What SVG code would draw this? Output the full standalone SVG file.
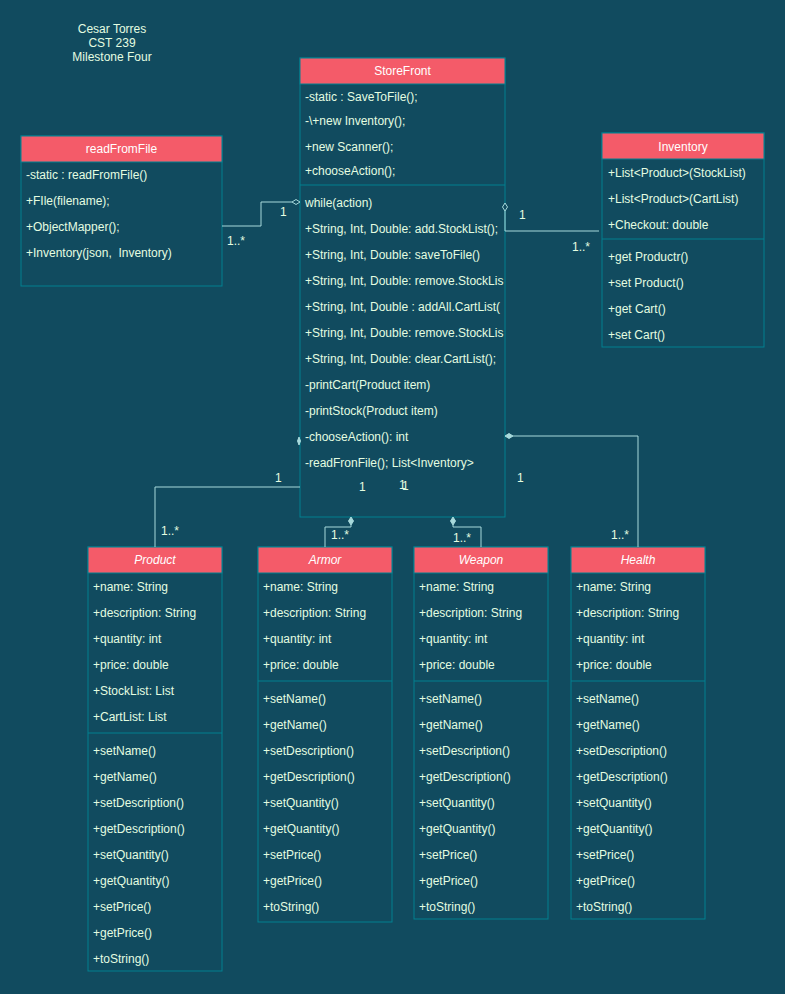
<svg xmlns="http://www.w3.org/2000/svg" width="785" height="994" viewBox="0 0 785 994">
<style>
text{font-family:"Liberation Sans",Arial,Helvetica,sans-serif;font-size:12px;fill:#E4FDE1}
.t{text-anchor:middle}
.h{text-anchor:middle;fill:#FFFFFF}
.i{font-style:italic}
.box{fill:#114B5F;stroke:#028090;stroke-width:1}
.hd{fill:#F45B69;stroke:#028090;stroke-width:1}
.dv{stroke:#028090;stroke-width:1}
.ln{fill:none;stroke:#A8DADC;stroke-width:1}
.dh{fill:#114B5F;stroke:#A8DADC;stroke-width:1}
.df{fill:#A8DADC;stroke:#A8DADC;stroke-width:1}
</style>
<defs>
<clipPath id="sfclip"><rect x="300" y="58" width="205" height="459"/></clipPath>
</defs>
<rect x="0" y="0" width="785" height="994" fill="#114B5F"/>

<g id="title">
<text class="t" x="112" y="33">Cesar Torres</text>
<text class="t" x="112" y="47">CST 239</text>
<text class="t" x="112" y="61">Milestone Four</text>
</g>

<g id="readFromFile">
<rect class="box" x="21" y="136" width="201" height="150"/>
<rect class="hd" x="21" y="136" width="201" height="26"/>
<text class="h" x="121.5" y="153">readFromFile</text>
<text x="26" y="179">-static : readFromFile()</text>
<text x="26" y="205">+FIle(filename);</text>
<text x="26" y="231">+ObjectMapper();</text>
<text x="26" y="257">+Inventory(json,&#160; Inventory)</text>
</g>

<g id="StoreFront">
<rect class="box" x="300" y="58" width="205" height="459"/>
<rect class="hd" x="300" y="58" width="205" height="26"/>
<text class="h" x="402.5" y="75">StoreFront</text>
<line class="dv" x1="300" y1="185" x2="505" y2="185"/>
<g clip-path="url(#sfclip)">
<text x="305" y="101">-static : SaveToFile();</text>
<text x="305" y="125">-\+new Inventory();</text>
<text x="305" y="151">+new Scanner();</text>
<text x="305" y="175">+chooseAction();</text>
<text x="305" y="207">while(action)</text>
<text x="305" y="233">+String, Int, Double: add.StockList();</text>
<text x="305" y="259">+String, Int, Double: saveToFile()</text>
<text x="305" y="285">+String, Int, Double: remove.StockLis</text>
<text x="305" y="311">+String, Int, Double : addAll.CartList(</text>
<text x="305" y="337">+String, Int, Double: remove.StockLis</text>
<text x="305" y="363">+String, Int, Double: clear.CartList();</text>
<text x="305" y="389">-printCart(Product item)</text>
<text x="305" y="415">-printStock(Product item)</text>
<text x="305" y="441">-chooseAction(): int</text>
<text x="305" y="467">-readFronFile(); List&lt;Inventory&gt;</text>
</g>
</g>

<g id="Inventory">
<rect class="box" x="602" y="133" width="162" height="214"/>
<rect class="hd" x="602" y="133" width="162" height="26"/>
<text class="h" x="683" y="151">Inventory</text>
<text x="608" y="177">+List&lt;Product&gt;(StockList)</text>
<text x="608" y="203">+List&lt;Product&gt;(CartList)</text>
<text x="608" y="229">+Checkout: double</text>
<line class="dv" x1="602" y1="239" x2="764" y2="239"/>
<text x="608" y="261">+get Productr()</text>
<text x="608" y="287">+set Product()</text>
<text x="608" y="313">+get Cart()</text>
<text x="608" y="339">+set Cart()</text>
</g>

<g id="Product">
<rect class="box" x="88" y="547" width="134" height="424"/>
<rect class="hd" x="88" y="547" width="134" height="26"/>
<text class="h i" x="155" y="564">Product</text>
<text x="93" y="591">+name: String</text>
<text x="93" y="617">+description: String</text>
<text x="93" y="643">+quantity: int</text>
<text x="93" y="669">+price: double</text>
<text x="93" y="695">+StockList: List</text>
<text x="93" y="721">+CartList: List</text>
<line class="dv" x1="88" y1="733" x2="222" y2="733"/>
<text x="93" y="755">+setName()</text>
<text x="93" y="781">+getName()</text>
<text x="93" y="807">+setDescription()</text>
<text x="93" y="833">+getDescription()</text>
<text x="93" y="859">+setQuantity()</text>
<text x="93" y="885">+getQuantity()</text>
<text x="93" y="911">+setPrice()</text>
<text x="93" y="937">+getPrice()</text>
<text x="93" y="963">+toString()</text>
</g>

<g id="Armor">
<rect class="box" x="258" y="547" width="134" height="375"/>
<rect class="hd" x="258" y="547" width="134" height="26"/>
<text class="h i" x="325" y="564">Armor</text>
<text x="263" y="591">+name: String</text>
<text x="263" y="617">+description: String</text>
<text x="263" y="643">+quantity: int</text>
<text x="263" y="669">+price: double</text>
<line class="dv" x1="258" y1="681" x2="392" y2="681"/>
<text x="263" y="703">+setName()</text>
<text x="263" y="729">+getName()</text>
<text x="263" y="755">+setDescription()</text>
<text x="263" y="781">+getDescription()</text>
<text x="263" y="807">+setQuantity()</text>
<text x="263" y="833">+getQuantity()</text>
<text x="263" y="859">+setPrice()</text>
<text x="263" y="885">+getPrice()</text>
<text x="263" y="911">+toString()</text>
</g>

<g id="Weapon">
<rect class="box" x="414" y="547" width="134" height="372"/>
<rect class="hd" x="414" y="547" width="134" height="26"/>
<text class="h i" x="481" y="564">Weapon</text>
<text x="419" y="591">+name: String</text>
<text x="419" y="617">+description: String</text>
<text x="419" y="643">+quantity: int</text>
<text x="419" y="669">+price: double</text>
<line class="dv" x1="414" y1="681" x2="548" y2="681"/>
<text x="419" y="703">+setName()</text>
<text x="419" y="729">+getName()</text>
<text x="419" y="755">+setDescription()</text>
<text x="419" y="781">+getDescription()</text>
<text x="419" y="807">+setQuantity()</text>
<text x="419" y="833">+getQuantity()</text>
<text x="419" y="859">+setPrice()</text>
<text x="419" y="885">+getPrice()</text>
<text x="419" y="911">+toString()</text>
</g>

<g id="Health">
<rect class="box" x="571" y="547" width="134" height="372"/>
<rect class="hd" x="571" y="547" width="134" height="26"/>
<text class="h i" x="638" y="564">Health</text>
<text x="576" y="591">+name: String</text>
<text x="576" y="617">+description: String</text>
<text x="576" y="643">+quantity: int</text>
<text x="576" y="669">+price: double</text>
<line class="dv" x1="571" y1="681" x2="705" y2="681"/>
<text x="576" y="703">+setName()</text>
<text x="576" y="729">+getName()</text>
<text x="576" y="755">+setDescription()</text>
<text x="576" y="781">+getDescription()</text>
<text x="576" y="807">+setQuantity()</text>
<text x="576" y="833">+getQuantity()</text>
<text x="576" y="859">+setPrice()</text>
<text x="576" y="885">+getPrice()</text>
<text x="576" y="911">+toString()</text>
</g>

<g id="connectors">
<!-- readFromFile to StoreFront -->
<polyline class="ln" points="222,226 261,226 261,202 292,202"/>
<path class="dh" d="M292,202 L296,199.5 L300,202 L296,204.5 Z"/>
<text x="280" y="216">1</text>
<text x="227" y="245">1..*</text>
<!-- StoreFront to Inventory -->
<polyline class="ln" points="505,211 505,231 599,231"/>
<path class="dh" d="M505,203 L507.5,207 L505,211 L502.5,207 Z"/>
<text x="519" y="219">1</text>
<text x="572" y="251">1..*</text>
<!-- Product -->
<polyline class="ln" points="300,487 155,487 155,547"/>
<text x="275" y="482">1</text>
<text x="161" y="535">1..*</text>
<!-- stray diamond -->
<path class="df" d="M299,437 L300.5,441 L299,445 L297.5,441 Z"/>
<!-- Armor -->
<polyline class="ln" points="351,525 351,527 325,527 325,547"/>
<path class="df" d="M351,517 L353.5,521 L351,525 L348.5,521 Z"/>
<text x="331" y="539">1..*</text>
<text x="359" y="491">1</text>
<!-- Weapon -->
<polyline class="ln" points="453,525 453,527 481,527 481,547"/>
<path class="df" d="M453,517 L455.5,521 L453,525 L450.5,521 Z"/>
<text x="453" y="542">1..*</text>
<text x="399" y="489">1</text>
<text x="402" y="490">1</text>
<!-- Health -->
<polyline class="ln" points="513,436 638,436 638,547"/>
<path class="df" d="M505,436 L509,433.5 L513,436 L509,438.5 Z"/>
<text x="517" y="482">1</text>
<text x="611" y="539">1..*</text>
</g>
</svg>
